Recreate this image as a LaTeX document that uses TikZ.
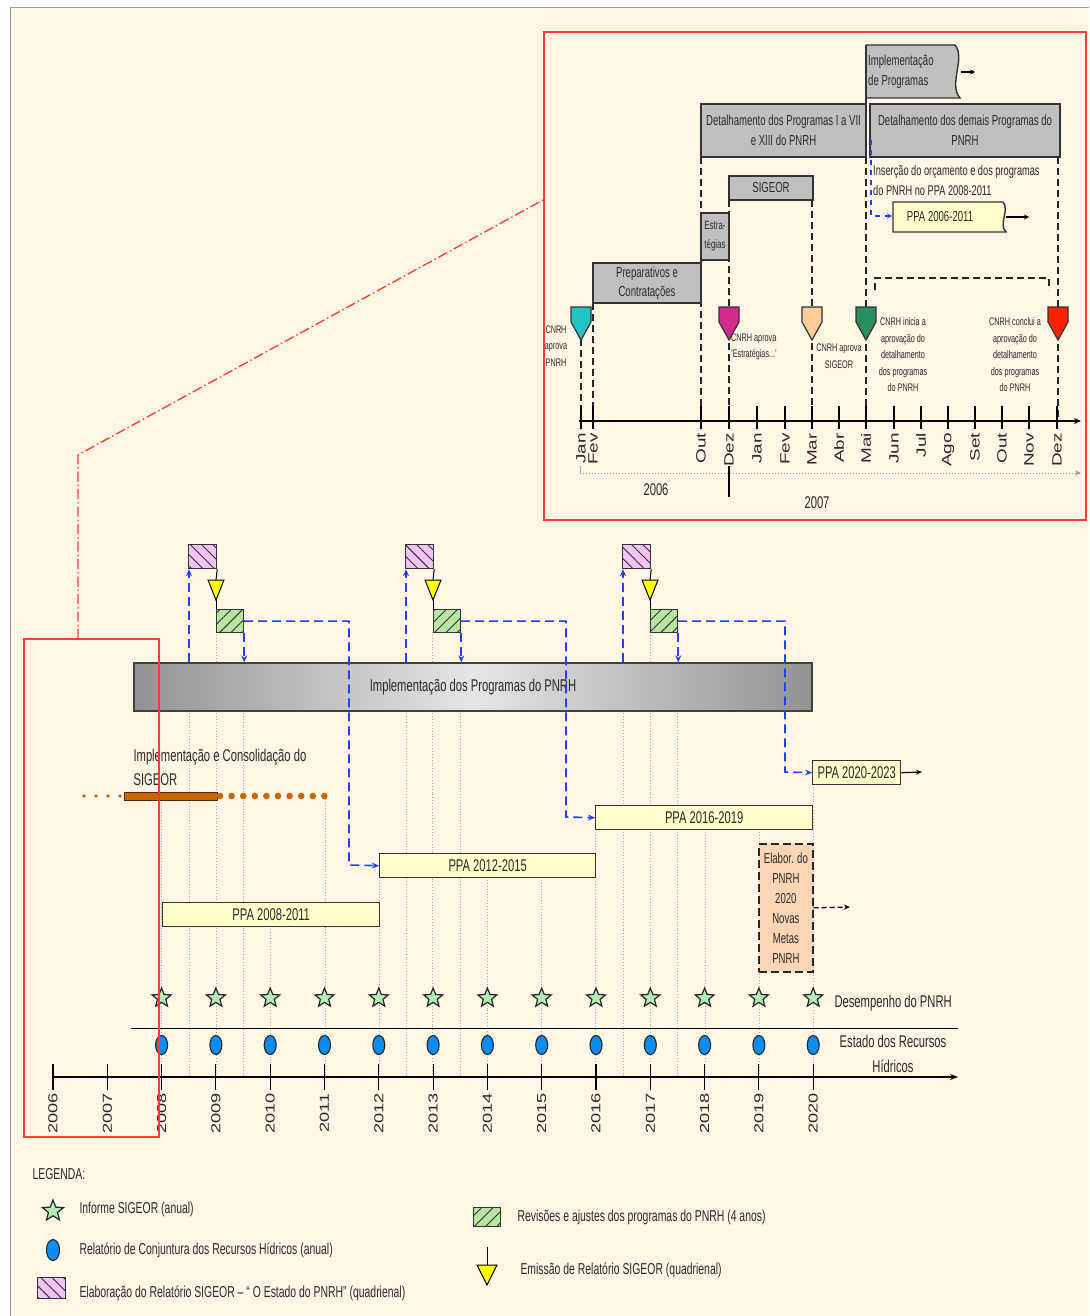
\documentclass[tikz,border=0pt]{standalone}
\usepackage{fontspec}
\setmainfont{Liberation Sans}[FakeStretch=0.66]
\newfontfamily\widefont{Liberation Sans}[FakeStretch=1.4]
\usetikzlibrary{shapes.geometric,patterns.meta,arrows.meta,calc}
\definecolor{bg}{HTML}{FFF6E6}
\definecolor{txt}{HTML}{2A2A2A}
\definecolor{pinkf}{HTML}{F3C3F3}
\definecolor{greenf}{HTML}{B8E6A2}
\definecolor{yel}{HTML}{FFFF00}
\definecolor{ppay}{HTML}{FFFFCC}
\definecolor{peach}{HTML}{FCD5B5}
\definecolor{blueA}{HTML}{2040FF}
\definecolor{orng}{HTML}{CC6600}
\definecolor{ellb}{HTML}{0A8CF0}
\definecolor{starf}{HTML}{B5EBB5}
\definecolor{redA}{HTML}{FF3B30}
\definecolor{mteal}{HTML}{22C4C8}
\definecolor{mmag}{HTML}{D42A8E}
\definecolor{mpeach}{HTML}{FFCC99}
\definecolor{mgreen}{HTML}{2A8F5E}
\definecolor{mred}{HTML}{FF2200}
\definecolor{boxg}{HTML}{BFBFBF}
\begin{document}
\begin{tikzpicture}[x=1pt,y=-1pt, font=\fontsize{17}{19}\selectfont, text=txt,
  guide/.style={draw=gray!65, dotted, line width=0.9pt},
  bluedash/.style={draw=blueA, dash pattern=on 9pt off 5pt, line width=1.6pt, -{Stealth[length=7pt,width=6pt]}},
  idash/.style={draw=black!85, dash pattern=on 7pt off 4pt, line width=1.4pt},
  mainbar/.style={draw=black!75, line width=1.2pt, minimum width=678pt, minimum height=48pt, left color=gray!85, right color=gray!85, middle color=gray!20, inner sep=0pt},
  ppabox/.style={draw=black!80, line width=1.4pt, fill=ppay, inner sep=0pt, minimum height=24pt},
  gbox/.style={draw=black!80, fill=boxg, line width=1.4pt, inner sep=0pt, align=center},
  yearlab/.style={rotate=90, anchor=east, inner sep=0pt, font=\widefont\fontsize{13}{13}\selectfont},
  monthlab/.style={rotate=90, anchor=east, inner sep=0pt, font=\widefont\fontsize{13.5}{13.5}\selectfont},
  tinylab/.style={font=\fontsize{11}{16.5}\selectfont, align=center, inner sep=0pt},
  starnode/.style={star, star points=5, star point ratio=2.3, minimum size=20pt, inner sep=0pt, draw=black!85, line width=1.2pt, fill=starf},
  ellnode/.style={ellipse, minimum width=12pt, minimum height=19pt, inner sep=0pt, draw=black!85, line width=1.1pt, fill=ellb},
  pinkbox/.style={draw=black!80, line width=1.2pt, fill=pinkf, minimum width=28pt, minimum height=24pt, inner sep=0pt, postaction={pattern={Lines[angle=-45,distance=8pt,line width=0.9pt]}, pattern color=black!80}},
  greenbox/.style={draw=black!80, line width=1.2pt, fill=greenf, minimum width=27pt, minimum height=23pt, inner sep=0pt, postaction={pattern={Lines[angle=45,distance=8pt,line width=0.9pt]}, pattern color=black!80}},
  legtext/.style={anchor=west, font=\fontsize{15.8}{17}\selectfont}
]
\useasboundingbox (0,0) rectangle (1089,1316);
\fill[white] (0,0) rectangle (1089,1316);
\fill[bg] (10,8) rectangle (1089,1316);
\draw[gray!80, line width=1pt] (10,1316) -- (10,8) -- (1089,8);

% ---------------- guides
\foreach \x/\t in {161/800,216/632,270/926,325/796,379/877,432/632,487/877,541/877,595/829,650/632,705/829,759/829,813/784}
  \draw[guide] (\x,\t) -- (\x,1077);
\foreach \x in {189,243,406,460,623,677}
  \draw[guide] (\x,710) -- (\x,1077);

% ---------------- main axis
\coordinate (axs) at (52,1077); \coordinate (axe) at (958,1077);
\draw[line width=1.1pt, -{Stealth[length=8pt,width=6pt]}] (axs) -- (axe);
\coordinate (hls) at (131,1028); \coordinate (hle) at (958,1028);
\draw[line width=1pt] (hls) -- (hle);
\foreach \i in {0,...,14}{
  \pgfmathsetmacro\xx{53+\i*54.3}
  \pgfmathtruncatemacro\yr{2006+\i}
  \draw[line width=1.1pt] (\xx,1064) -- (\xx,1090);
  \node[yearlab] (y\yr) at (\xx,1093) {\yr};
}
\foreach \i in {2,...,14}{
  \pgfmathsetmacro\xx{53+\i*54.3}
  \node[starnode] (st\i) at (\xx,998) {};
  \node[ellnode] (el\i) at (\xx,1045) {};
}
\node[anchor=west] (desemp) at (831,1003) {Desempenho do PNRH};
\node[align=center, font=\fontsize{17}{25}\selectfont] (estado) at (893,1054) {Estado dos Recursos\\Hídricos};

% ---------------- main bar
\node[mainbar] (bar) at (473,687) {Implementação dos Programas do PNRH};

% ---------------- PPA boxes
\node[ppabox, minimum width=217pt, anchor=north west] (ppa08) at (162,902) {PPA 2008-2011};
\node[ppabox, minimum width=216pt, anchor=north west] (ppa12) at (379,853) {PPA 2012-2015};
\node[ppabox, minimum width=217pt, anchor=north west] (ppa16) at (595,805) {PPA 2016-2019};
\node[ppabox, minimum width=88pt, anchor=north west] (ppa20) at (812,760) {PPA 2020-2023};
\coordinate (ppa20end) at (922,772);
\draw[line width=1.2pt, -{Stealth[length=6pt,width=5pt]}] (ppa20.east) -- (ppa20end);

\node[draw=black!85, dash pattern=on 8pt off 4pt, line width=1.7pt, fill=peach, minimum width=54pt, minimum height=128pt, inner sep=0pt, anchor=north west, align=center, font=\fontsize{14.5}{20}\selectfont] (elab) at (758,843) {Elabor. do\\PNRH\\2020\\Novas\\Metas\\PNRH};
\coordinate (elabend) at (850,907);
\draw[dash pattern=on 5pt off 3pt, line width=1.3pt, -{Stealth[length=6pt,width=5pt]}] (elab.east) -- (elabend);

% ---------------- SIGEOR orange
\node[anchor=west, align=left, font=\fontsize{17}{24}\selectfont] (sigtxt) at (130,767) {Implementação e Consolidação do\\SIGEOR};
\foreach \x in {84,96,108,120} \fill[orng] (\x,796) circle (1.8pt);
\node[draw=black!60!orng, fill=orng, line width=1pt, minimum width=93pt, minimum height=8pt, inner sep=0pt, anchor=west] (sigbar) at (124,796) {};
\foreach \k in {0,...,9} \fill[orng] (220+\k*11.6,796) circle (3.3pt);

% ---------------- quadrennial sets
\foreach \p/\n in {188/1,405/2,622/3}{
  \node[pinkbox, anchor=north west] (pk\n) at (\p,544) {};
  \node[greenbox, anchor=north west] (gr\n) at (\p+28,609) {};
  \coordinate (tt\n) at (\p+28,580);
  \coordinate (tb\n) at (\p+28,600);
  \draw[line width=1pt] (pk\n.south east) -- (tt\n);
  \draw[line width=1pt] (tb\n) -- (gr\n.north west);
  \draw[line width=1pt, fill=yel] (\p+20,580) -- (\p+36,580) -- (tb\n) -- cycle;
  \coordinate (ub\n) at (\p+1,662);
  \draw[bluedash] (ub\n) -- (ub\n |- pk\n.south);
  \draw[bluedash] (gr\n.south east) -- (gr\n.south east |- bar.north);
}
\draw[bluedash] (gr1.east) -| (349,865) -- (ppa12.west);
\draw[bluedash] (gr2.east) -| (566,817) -- (ppa16.west);
\draw[bluedash] (gr3.east) -| (785,772) -- (ppa20.west);

% ---------------- inset
\draw[redA, line width=1.5pt] (544,32) rectangle (1086,520);

% dashed verticals
\draw[idash] (581,339) -- (581,421);
\draw[idash] (593,303) -- (593,421);
\draw[idash] (701,157) -- (701,421);
\draw[idash] (729,200) -- (729,421);
\draw[idash] (812,200) -- (812,421);
\draw[idash] (866,157) -- (866,421);
\draw[idash] (1058,157) -- (1058,421);
\draw[idash] (875,290) -- (875,278) -- (1049,278) -- (1049,290);

% gray boxes
\draw[fill=boxg, line width=1.4pt, draw=black!80] (866,45) -- (955,45) .. controls (966,58) and (948,84) .. (960,98) -- (866,98);
\draw[line width=1.4pt, draw=black!80] (866,45) -- (866,157);
\node[anchor=west, align=left, font=\fontsize{14.5}{20}\selectfont, inner sep=1pt] (impltx) at (867,72) {Implementação\\de Programas};
\coordinate (implR) at (961,72); \coordinate (implE) at (975,72);
\draw[line width=1.2pt, -{Stealth[length=5pt,width=5pt]}] (implR) -- (implE);

\node[gbox, minimum width=165pt, minimum height=53pt, font=\fontsize{14.5}{20}\selectfont] (det1) at (783.5,130.5) {Detalhamento dos Programas I a VII\\e XIII do PNRH};
\node[gbox, minimum width=190pt, minimum height=53pt, font=\fontsize{14.5}{20}\selectfont] (det2) at (965,130.5) {Detalhamento dos demais Programas do\\PNRH};
\node[gbox, minimum width=84pt, minimum height=24pt, font=\fontsize{14.5}{16}\selectfont] (sig) at (771,188) {SIGEOR};
\node[gbox, minimum width=28pt, minimum height=47pt, font=\fontsize{12}{19}\selectfont] (est) at (715,236.5) {Estra-\\tégias};
\node[gbox, minimum width=108pt, minimum height=40pt, font=\fontsize{14.5}{19}\selectfont] (prep) at (647,283) {Preparativos e\\Contratações};

\node[anchor=west, align=left, font=\fontsize{14}{20}\selectfont, inner sep=1pt] (ins) at (872,180) {Inserção do orçamento e dos programas\\do PNRH no PPA 2008-2011};
\draw[fill=ppay, line width=1.4pt, draw=black!80] (893,202) -- (1003,202) .. controls (1010,210) and (998,224) .. (1006,232) -- (893,232) -- cycle;
\node[font=\fontsize{14.5}{16}\selectfont] (ppa06) at (940,217) {PPA 2006-2011};
\coordinate (ppa06w) at (892,216); \coordinate (ppa06r) at (1006,217); \coordinate (ppa06e) at (1029,217);
\draw[line width=1.2pt, -{Stealth[length=5pt,width=5pt]}] (ppa06r) -- (ppa06e);
\coordinate (blst) at (871,140);
\draw[draw=blueA, dash pattern=on 5pt off 5pt, line width=1.3pt, -{Stealth[length=5pt,width=5pt]}] (blst) |- (ppa06w);

% markers
\foreach \x/\c in {581/mteal,729/mmag,812/mpeach,866/mgreen,1058/mred}
  \draw[fill=\c, line width=1.2pt, draw=black!80] (\x-10,307) -- (\x+10,307) -- (\x+10,322) -- (\x,340) -- (\x-10,322) -- cycle;

% inset axis
\coordinate (ias) at (579,421); \coordinate (iae) at (1081,421);
\draw[line width=1.2pt, -{Stealth[length=7pt,width=6pt]}] (ias) -- (iae);
\foreach \x/\m in {581/Jan,593/Fev,701/Out,729/Dez,757/Jan,785/Fev,812/Mar,839/Abr,866/Mai,894/Jun,921/Jul,948/Ago,975/Set,1002/Out,1029/Nov,1057/Dez}{
  \draw[line width=1.2pt] (\x,406) -- (\x,429);
  \node[monthlab] (m\x) at (\x,433) {\m};
}
\coordinate (ids) at (580,473); \coordinate (ide) at (1081,473);
\draw[gray!80, dotted, line width=1pt, -{Stealth[length=6pt,width=5pt]}] (ids) -- (ide);
\draw[gray!70] (580,466) -- (580,474);
\draw[line width=1.3pt] (729,466) -- (729,497);
\node[font=\fontsize{17}{17}\selectfont] (i06) at (656,490) {2006};
\node[font=\fontsize{17}{17}\selectfont] (i07) at (817,503) {2007};

\node[tinylab] (l1) at (556,346) {CNRH\\aprova\\PNRH};
\node[tinylab, align=left, anchor=west] (l2) at (731,347) {CNRH aprova\\{'}Estratégias...{'}};
\node[tinylab] (l3) at (839,356) {CNRH aprova\\SIGEOR};
\node[tinylab] (l4) at (903,355) {CNRH inicia a\\aprovação do\\detalhamento\\dos programas\\do PNRH};
\node[tinylab] (l5) at (1015,355) {CNRH conclui a\\aprovação do\\detalhamento\\dos programas\\do PNRH};

% ---------------- red overlays
\draw[redA, line width=1.5pt] (24,639) rectangle (159,1137);
\coordinate (rd1) at (78,639); \coordinate (rd2) at (78,455); \coordinate (rd3) at (543,200);
\draw[redA, line width=1.3pt, dash pattern=on 10pt off 3pt on 1.5pt off 3pt] (rd1) -- (rd2) -- (rd3);

% ---------------- legend
\node[anchor=west, font=\fontsize{15.8}{17}\selectfont] (leg) at (29,1174) {LEGENDA:};
\node[starnode, minimum size=22pt] (lst) at (53,1211) {};
\node[legtext] (lt1) at (76,1209) {Informe SIGEOR (anual)};
\node[ellnode, minimum width=13pt, minimum height=21pt] (lel) at (53,1250) {};
\node[legtext] (lt2) at (76,1250) {Relatório de Conjuntura dos Recursos Hídricos (anual)};
\node[pinkbox, minimum width=28pt, minimum height=21pt, anchor=north west] (lpk) at (37,1277) {};
\node[legtext] (lt3) at (76,1293) {Elaboração do Relatório SIGEOR – “ O Estado do PNRH” (quadrienal)};
\node[greenbox, minimum width=27pt, minimum height=19pt, anchor=north west] (lgr) at (473,1207) {};
\node[legtext] (lt4) at (514,1217) {Revisões e ajustes dos programas do PNRH (4 anos)};
\coordinate (lts) at (487,1247); \coordinate (ltt) at (487,1265);
\draw[line width=1pt] (lts) -- (ltt);
\draw[fill=yel, line width=1pt] (477,1265) -- (497,1265) -- (487,1285) -- cycle;
\node[legtext] (lt5) at (517,1270) {Emissão de Relatório SIGEOR (quadrienal)};
\end{tikzpicture}
\end{document}
